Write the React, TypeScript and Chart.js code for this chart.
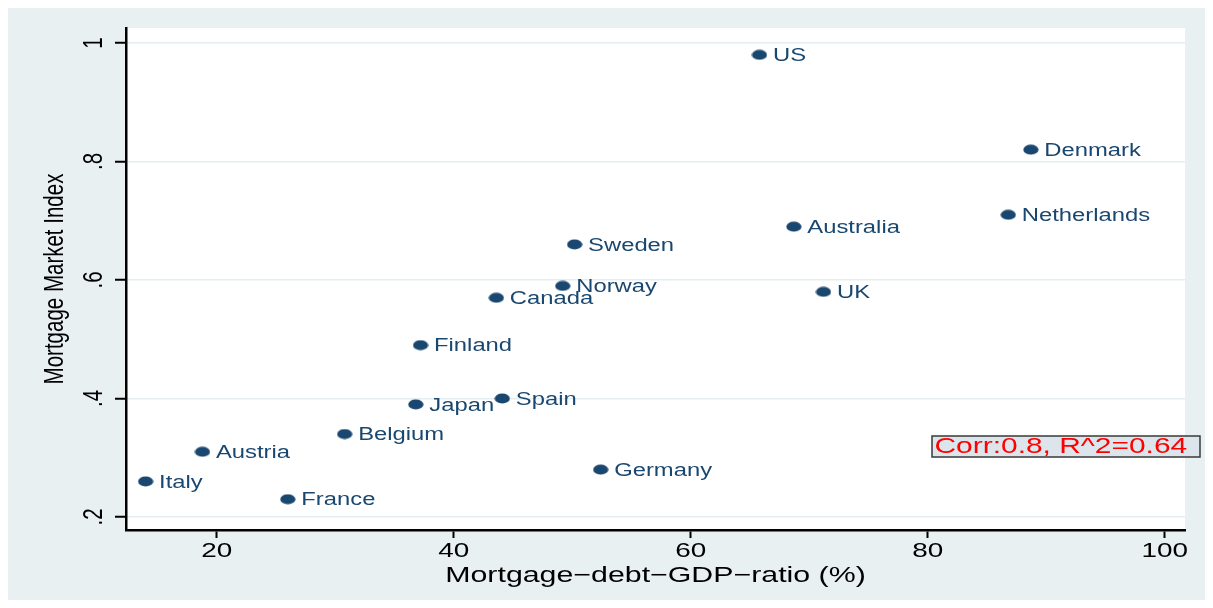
import React, { useEffect, useRef } from "react";
import { Chart, registerables } from "chart.js";

Chart.register(...registerables);

const countries = [
  "Italy", "Austria", "France", "Belgium", "Japan", "Finland", "Spain", "Canada",
  "Norway", "Sweden", "Germany", "US", "Australia", "UK", "Netherlands", "Denmark",
];
const debtRatio = [14.0, 18.8, 26.0, 30.8, 36.8, 37.2, 44.1, 43.6, 49.2, 50.2, 52.4, 65.8, 68.7, 71.2, 86.8, 88.7];
const marketIndex = [0.26, 0.31, 0.23, 0.34, 0.39, 0.49, 0.40, 0.57, 0.59, 0.66, 0.28, 0.98, 0.69, 0.58, 0.71, 0.82];

const xTicks = [20, 40, 60, 80, 100];
const yTicks = [0.2, 0.4, 0.6, 0.8, 1];
const yTickLabels = [".2", ".4", ".6", ".8", "1"];

const xTitle = "Mortgage\u2212debt\u2212GDP\u2212ratio (%)";
const yTitle = "Mortgage Market Index";
const corrText = "Corr:0.8, R^2=0.64";

const FONT = "'Liberation Sans', Arial, Helvetica, sans-serif";
const SX = 1.36;
const NAVY = "#1a476f";

function drawText(
  ctx: CanvasRenderingContext2D,
  text: string,
  x: number,
  y: number,
  size: number,
  color: string,
  align: CanvasTextAlign,
  rotate = false
) {
  ctx.save();
  ctx.translate(x, y);
  ctx.scale(SX, 1);
  if (rotate) ctx.rotate(-Math.PI / 2);
  ctx.font = `${size}px ${FONT}`;
  ctx.fillStyle = color;
  ctx.textAlign = align;
  ctx.textBaseline = "alphabetic";
  ctx.fillText(text, 0, 0);
  ctx.restore();
}

const textPlugin = {
  id: "stataText",
  beforeDraw(chart: any) {
    const { ctx, chartArea: a } = chart;
    ctx.save();
    ctx.fillStyle = "#ffffff";
    ctx.fillRect(a.left, a.top, a.right - a.left, a.bottom - a.top);
    ctx.restore();
  },
  afterDatasetsDraw(chart: any) {
    const ctx = chart.ctx as CanvasRenderingContext2D;
    const meta = chart.getDatasetMeta(0);
    meta.data.forEach((pt: any, i: number) => {
      drawText(ctx, countries[i], pt.x + 13.5, pt.y + 6.3, 17.5, NAVY, "left");
    });
  },
  afterDraw(chart: any) {
    const ctx = chart.ctx as CanvasRenderingContext2D;
    const xs = chart.scales.x;
    const ys = chart.scales.y;
    const a = chart.chartArea;
    xTicks.forEach((v) => {
      drawText(ctx, String(v), xs.getPixelForValue(v), 549, 20.5, "#000", "center");
    });
    yTicks.forEach((v, i) => {
      drawText(ctx, yTickLabels[i], 94, ys.getPixelForValue(v), 20.5, "#000", "center", true);
    });
    drawText(ctx, xTitle, (a.left + a.right) / 2, 574, 22.3, "#000", "center");
    drawText(ctx, yTitle, 55, (a.top + a.bottom) / 2, 20.5, "#000", "center", true);

    // correlation box
    ctx.save();
    ctx.fillStyle = "#dbe5eb";
    ctx.fillRect(924, 428, 268, 21);
    ctx.strokeStyle = "#3a3a3a";
    ctx.lineWidth = 1.5;
    ctx.strokeRect(924, 428, 268, 21);
    ctx.restore();
    drawText(ctx, corrText, 926.5, 445, 22, "#ff0000", "left");
  },
};

function makeMarker(): HTMLCanvasElement {
  const c = document.createElement("canvas");
  c.width = 16;
  c.height = 11;
  const g = c.getContext("2d")!;
  g.fillStyle = NAVY;
  g.beginPath();
  g.ellipse(8, 5.5, 7.6, 5.1, 0, 0, Math.PI * 2);
  g.fill();
  return c;
}

export default function App() {
  const ref = useRef<HTMLCanvasElement>(null);

  useEffect(() => {
    document.documentElement.style.overflow = "hidden";
    const marker = makeMarker();
    const chart = new Chart(ref.current!, {
      type: "scatter",
      data: {
        labels: countries,
        datasets: [
          {
            data: debtRatio.map((x, i) => ({ x, y: marketIndex[i] })),
            pointStyle: marker as any,
            backgroundColor: NAVY,
            borderColor: NAVY,
            pointRadius: 7,
          },
        ],
      },
      options: {
        animation: false,
        responsive: false,
        devicePixelRatio: 1,
        layout: { padding: { top: 20, right: 28, left: 0, bottom: 0 } },
        plugins: { legend: { display: false }, tooltip: { enabled: false } },
        scales: {
          x: {
            type: "linear",
            min: 12.346,
            max: 101.71,
            afterBuildTicks: (s: any) => {
              s.ticks = xTicks.map((v) => ({ value: v }));
            },
            afterFit: (s: any) => {
              s.height = 78;
            },
            ticks: { display: false },
            grid: {
              drawOnChartArea: false,
              tickLength: 8,
              tickWidth: 2,
              tickColor: "#000",
            },
            border: { color: "#000", width: 2.5 },
          },
          y: {
            type: "linear",
            min: 0.178,
            max: 1.0253,
            afterBuildTicks: (s: any) => {
              s.ticks = yTicks.map((v) => ({ value: v }));
            },
            afterFit: (s: any) => {
              s.width = 118;
            },
            ticks: { display: false },
            grid: {
              color: "#e4edf0",
              lineWidth: 1.5,
              tickLength: 11,
              tickWidth: 2,
              tickColor: "#000",
            },
            border: { color: "#000", width: 2.5 },
          },
        },
      },
      plugins: [textPlugin],
    });
    return () => chart.destroy();
  }, []);

  return (
    <div
      style={{
        width: 1205,
        height: 600,
        background: "#e8f0f2",
        marginBottom: -8,
      }}
    >
      <canvas ref={ref} width={1205} height={600} style={{ display: "block" }} />
    </div>
  );
}
